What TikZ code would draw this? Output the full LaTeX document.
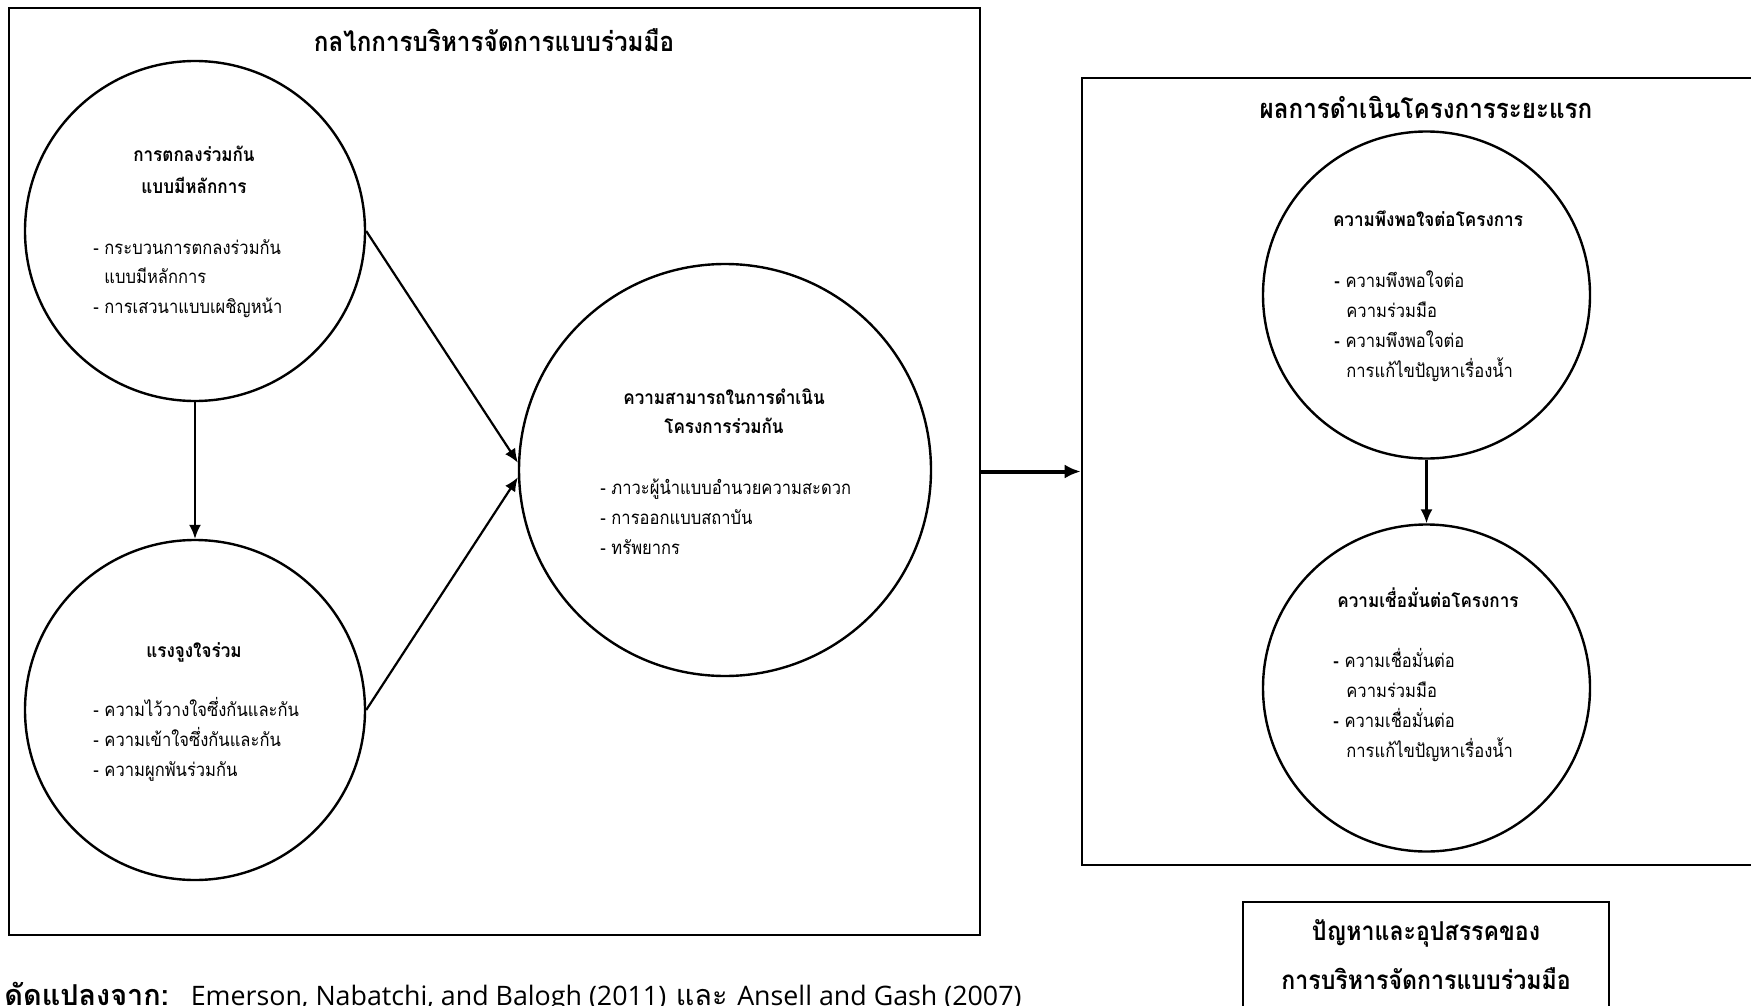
\documentclass[tikz,border=0pt]{standalone}
\usepackage{fontspec}
\setmainfont[Script=Thai, FakeStretch=0.89]{Loma}
\newfontfamily\notefont[Script=Thai]{Loma}
\newfontfamily\latinfont{Open Sans}
\usetikzlibrary{arrows.meta}
\begin{document}
\begin{tikzpicture}[x=0.5pt,y=-0.5pt,
  frame/.style={draw, line width=1.3pt, inner sep=0pt},
  circ/.style={draw, circle, line width=1.2pt, minimum size=#1, inner sep=0pt},
  title/.style={font=\bfseries\fontsize{13.6}{16}\selectfont, inner sep=0pt, anchor=base},
  head/.style={font=\bfseries\fontsize{9.6}{12}\selectfont, inner sep=0pt, anchor=base},
  item/.style={font=\fontsize{9.3}{12}\selectfont, inner sep=0pt, anchor=base west},
  arr/.style={-{Latex[length=7pt,width=6pt]}, line width=1.1pt},
  bigarr/.style={-{Latex[length=8pt,width=7pt]}, line width=2pt},
]
\useasboundingbox (0,0) rectangle (1751,1006);

% ---- left frame: collaborative governance mechanism ----
\node[frame, minimum width=485.5pt, minimum height=463.5pt] (L) at (494.5,471.5) {};
\node[title] (Lt) at (494,52) {กลไกการบริหารจัดการแบบร่วมมือ};

\node[circ=170pt] (A) at (195,231) {};
\node[head] (Ah1) at (194,162) {การตกลงร่วมกัน};
\node[head] (Ah2) at (194,193) {แบบมีหลักการ};
\node[item] (Ai1) at (93,254) {- กระบวนการตกลงร่วมกัน};
\node[item] (Ai2) at (104,283) {แบบมีหลักการ};
\node[item] (Ai3) at (93,313) {- การเสวนาแบบเผชิญหน้า};

\node[circ=170pt] (B) at (195,710) {};
\node[head] (Bh1) at (194,657) {แรงจูงใจร่วม};
\node[item] (Bi1) at (93,716) {- ความไว้วางใจซึ่งกันและกัน};
\node[item] (Bi2) at (93,746) {- ความเข้าใจซึ่งกันและกัน};
\node[item] (Bi3) at (93,776) {- ความผูกพันร่วมกัน};

\node[circ=206pt] (C) at (725,470) {};
\node[head] (Ch1) at (724,404) {ความสามารถในการดำเนิน};
\node[head] (Ch2) at (724,433) {โครงการร่วมกัน};
\node[item] (Ci1) at (600,494) {- ภาวะผู้นำแบบอำนวยความสะดวก};
\node[item] (Ci2) at (600,524) {- การออกแบบสถาบัน};
\node[item] (Ci3) at (600,554) {- ทรัพยากร};

\draw[arr] (A.south) -- (B.north);
\draw[arr] (A.east) -- (C.178);
\draw[arr] (B.east) -- (C.182);

% ---- right frame: early project outcomes ----
\node[frame, minimum width=344pt, minimum height=393.5pt] (R) at (1426,471.5) {};
\node[title] (Rt) at (1426,119) {ผลการดำเนินโครงการระยะแรก};

\node[circ=163.5pt] (D) at (1426.5,295) {};
\node[head] (Dh1) at (1428,227) {ความพึงพอใจต่อโครงการ};
\node[item] (Di1) at (1334,287) {\textbf{-} ความพึงพอใจต่อ};
\node[item] (Di2) at (1346,317) {ความร่วมมือ};
\node[item] (Di3) at (1334,347) {\textbf{-} ความพึงพอใจต่อ};
\node[item] (Di4) at (1346,377) {การแก้ไขปัญหาเรื่องน้ำ};

\node[circ=163.5pt] (E) at (1426.5,688) {};
\node[head] (Eh1) at (1428,607) {ความเชื่อมั่นต่อโครงการ};
\node[item] (Ei1) at (1333,667) {\textbf{-} ความเชื่อมั่นต่อ};
\node[item] (Ei2) at (1346,697) {ความร่วมมือ};
\node[item] (Ei3) at (1333,727) {\textbf{-} ความเชื่อมั่นต่อ};
\node[item] (Ei4) at (1346,757) {การแก้ไขปัญหาเรื่องน้ำ};

\draw[arr] (D.south) -- (E.north);
\draw[bigarr] (L.east) -- (R.west);

% ---- problems and obstacles ----
\node[frame, minimum width=183pt, minimum height=59pt] (P) at (1426,961) {};
\node[title, font=\bfseries\fontsize{13}{16}\selectfont] (P1) at (1426,940) {ปัญหาและอุปสรรคของ};
\node[title, font=\bfseries\fontsize{13}{16}\selectfont] (P2) at (1426,989) {การบริหารจัดการแบบร่วมมือ};

% ---- source note ----
\node[inner sep=0pt, anchor=base west, font=\notefont\fontsize{14.4}{17}\selectfont] (S) at (4,1005)
  {\textbf{ดัดแปลงจาก:}\hspace{11pt}{\latinfont\fontsize{13.4}{17}\selectfont Emerson, Nabatchi, and Balogh (2011)} และ {\latinfont\fontsize{13.4}{17}\selectfont Ansell and Gash (2007)}};
\end{tikzpicture}
\end{document}
